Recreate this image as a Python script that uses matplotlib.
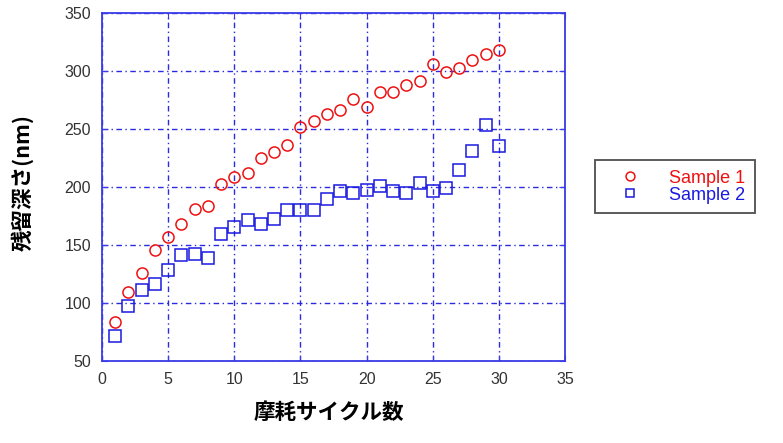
import matplotlib
matplotlib.use("Agg")
import matplotlib.pyplot as plt

cycles = list(range(1, 31))
sample1 = [83, 109.5, 126, 145.5, 157, 168, 181, 183.5, 202.5, 208,
           212, 225, 230, 236, 251.5, 257, 262.5, 266, 276, 268.5,
           282, 282, 287.5, 291, 306, 299, 302.5, 309.5, 314, 318]
sample2 = [71, 97.5, 111, 116.5, 128, 141, 142, 138.5, 159, 165,
           171, 168, 172.5, 179.5, 179.5, 179.5, 189.5, 196, 195, 197.5,
           200.5, 196.5, 195, 203, 196.5, 198.5, 214, 230.5, 253, 235]
labels = ["Sample 1", "Sample 2"]
xticks = [0, 5, 10, 15, 20, 25, 30, 35]
yticks = [50, 100, 150, 200, 250, 300, 350]

frame_blue = "#3a3ae6"
grid_blue = "#2a2ae0"

fig = plt.figure(figsize=(7.83, 4.43), dpi=100)
ax = fig.add_axes([0.1303, 0.1858, 0.5913, 0.7855])

ax.plot(cycles, sample1, linestyle="none", marker="o", markersize=8,
        markerfacecolor="none", markeredgecolor="#ee1111", markeredgewidth=1.1,
        label=labels[0], zorder=3)
ax.plot(cycles, sample2, linestyle="none", marker="s", markersize=8,
        markerfacecolor="none", markeredgecolor="#1a1ae0", markeredgewidth=1.1,
        label=labels[1], zorder=3)

ax.set_xlim(0, 35)
ax.set_ylim(50, 350)
ax.set_xticks(xticks)
ax.set_yticks(yticks)
ax.grid(True, color=grid_blue, linestyle=(0, (4, 2.5, 1, 2.5)), linewidth=1.0)
for s in ax.spines.values():
    s.set_color(frame_blue)
    s.set_linewidth(1.3)
ax.tick_params(direction="in", length=4, color=frame_blue, labelcolor="#333333",
               labelsize=11.5, top=True, right=True)
for lab in ax.get_xticklabels() + ax.get_yticklabels():
    lab.set_family(["Liberation Sans", "DejaVu Sans"])
ax.tick_params(axis="x", pad=8)
ax.tick_params(axis="y", pad=8)

fig.text(0.4195, 0.068, "摩耗サイクル数", ha="center", va="center",
         fontsize=15.5, fontweight="bold", family=["Noto Sans CJK JP", "DejaVu Sans"])
fig.text(0.029, 0.587, "残留深さ(nm)", ha="center", va="center", rotation=90,
         fontsize=15.5, fontweight="bold", family=["Noto Sans CJK JP", "DejaVu Sans"])

leg = fig.legend(loc="center left", bbox_to_anchor=(0.760, 0.579),
                 frameon=True, fancybox=False, edgecolor="#222222",
                 prop={"family": ["Liberation Sans", "DejaVu Sans"], "size": 13},
                 handlelength=2.8, handletextpad=0.75, labelspacing=0.0,
                 borderpad=0.55, borderaxespad=0, markerscale=0.8)
leg.get_frame().set_linewidth(1.3)
for t, c in zip(leg.get_texts(), ["#ee1111", "#1a1ae0"]):
    t.set_color(c)

fig.savefig("out.png", dpi=100)
